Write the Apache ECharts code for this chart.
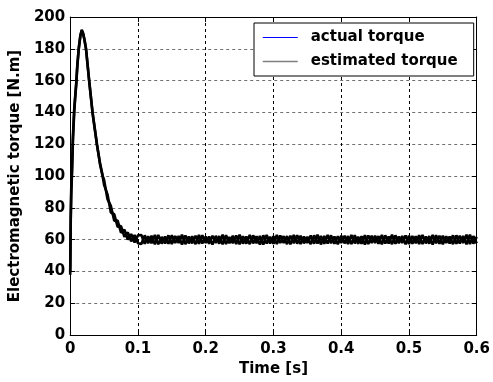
<!DOCTYPE html>
<html>
<head>
<meta charset="utf-8">
<script src="https://cdn.jsdelivr.net/npm/echarts@6/dist/echarts.min.js"></script>
<style>html,body{margin:0;padding:0;background:#fff;}#c{width:493px;height:382px;}</style>
</head>
<body>
<div id="c"></div>
<script>
// Transient part (irregular sampling)
var tTrans = [0, 0.0008, 0.0015, 0.0025, 0.004, 0.0059, 0.0075, 0.0088, 0.0105, 0.0127, 0.015, 0.017, 0.019, 0.021, 0.0234, 0.028, 0.033, 0.0395, 0.044, 0.048];
var actualTrans = [38, 72, 88, 100, 122, 140, 150, 157, 169, 180, 188, 192, 190, 186, 180, 160, 140, 120, 108, 100];
var estimatedTrans = [40, 75, 92, 103, 125, 142, 151, 158, 170, 181, 188.5, 191.5, 189.5, 185.5, 179.5, 159.5, 139.5, 119.5, 107.5, 99.5];

// Regular sampling from 0.05 s to 0.6 s every 0.005 s
var steadyStart = 0.05;
var steadyStep = 0.005;
var actualSteady = [97.5, 85.5, 81.2, 72.0, 72.0, 64.4, 66.3, 60.0, 63.5, 58.2, 62.7,
62.9, 57.4, 62.1, 57.8, 63.0, 57.1, 61.7, 57.6, 62.7, 57.3,
62.3, 57.9, 63.1, 57.2, 61.9, 57.7, 62.5, 57.4, 62.8, 58.0,
62.0, 57.0, 62.4, 57.5, 63.1, 57.3, 61.6, 57.8, 62.6, 57.1,
62.2, 57.5, 62.9, 57.7, 62.1, 57.0, 62.7, 57.6, 61.8, 57.4,
63.0, 57.9, 62.2, 57.2, 62.5, 57.7, 62.8, 57.3, 62.0, 57.9,
62.6, 57.5, 63.1, 57.0, 62.3, 57.6, 62.7, 57.4, 62.1, 58.0,
62.4, 57.2, 62.9, 57.7, 61.8, 57.5, 62.8, 57.3, 62.5, 57.9,
62.2, 57.1, 62.7, 57.6, 63.1, 57.4, 62.0, 58.0, 62.6, 57.2,
62.3, 57.7, 62.8, 57.3, 61.9, 57.5, 63.0, 57.8, 62.5, 57.1,
62.1, 57.6, 62.7, 57.4, 62.4, 57.9, 63.1, 57.3, 62.2, 57.7];
var estimatedSteady = [94.5, 88.5, 77.0, 76.0, 68.1, 68.5, 61.8, 64.6, 59.0, 62.9, 57.8,
57.3, 62.7, 57.8, 62.4, 57.1, 62.9, 57.5, 62.0, 57.4, 62.8,
57.9, 62.3, 57.0, 62.6, 57.7, 62.1, 57.2, 63.0, 57.6, 61.9,
57.4, 62.5, 58.0, 62.2, 57.1, 62.8, 57.7, 62.4, 57.3, 63.1,
57.5, 62.0, 57.2, 62.7, 57.8, 62.3, 57.0, 62.9, 57.6, 62.1,
57.3, 62.6, 57.9, 62.2, 57.1, 63.0, 57.5, 62.4, 57.7, 61.8,
57.2, 62.7, 57.6, 62.3, 57.4, 62.9, 57.8, 62.0, 57.1, 62.5,
57.7, 62.2, 57.3, 62.8, 57.5, 62.1, 57.0, 62.6, 57.9, 62.4,
57.4, 63.0, 57.6, 61.9, 57.2, 62.7, 57.8, 62.3, 57.1, 62.5,
57.5, 62.1, 57.3, 62.9, 57.7, 62.2, 57.0, 62.8, 57.4, 62.4,
57.9, 62.0, 57.2, 62.7, 57.6, 62.3, 57.1, 63.1, 57.5, 61.8];

var seriesNames = ['actual torque', 'estimated torque'];
var xTitle = 'Time [s]';
var yTitle = 'Electromagnetic torque [N.m]';

function build(trans, steady) {
  var d = tTrans.map(function (t, i) { return [t, trans[i]]; });
  steady.forEach(function (v, i) {
    d.push([Math.round((steadyStart + i * steadyStep) * 10000) / 10000, v]);
  });
  return d;
}

var font = 'DejaVu Sans';
var lbl = { fontFamily: font, fontWeight: 'bold', fontSize: 15, color: '#000' };
var chart = echarts.init(document.getElementById('c'), null, { renderer: 'canvas' });
function axisCommon() {
  return {
    axisLine: { show: true, onZero: false, lineStyle: { color: '#000', width: 1 } },
    axisTick: { show: true, inside: true, length: 5, lineStyle: { color: '#000' } }
  };
}
chart.setOption({
  animation: false,
  backgroundColor: '#fff',
  grid: { left: 70, right: 13, top: 17, bottom: 42, containLabel: false },
  legend: {
    show: true,
    orient: 'vertical',
    left: 254, top: 23,
    padding: [7, 16, 7, 8],
    itemWidth: 35, itemHeight: 14, itemGap: 9,
    backgroundColor: '#fff',
    borderColor: '#000', borderWidth: 1, borderRadius: 0,
    textStyle: { fontFamily: font, fontWeight: 'bold', fontSize: 15, color: '#000', padding: [0, 0, 0, 8] },
    data: [
      { name: seriesNames[0], itemStyle: { color: '#0000ff', opacity: 0 }, lineStyle: { color: '#0000ff', width: 1 } },
      { name: seriesNames[1], itemStyle: { color: '#808080', opacity: 0 }, lineStyle: { color: '#808080', width: 1.5 } }
    ]
  },
  xAxis: [
    Object.assign({
      type: 'value', min: 0, max: 0.6, interval: 0.1, position: 'bottom',
      name: xTitle, nameLocation: 'middle', nameGap: 26,
      nameTextStyle: lbl,
      axisLabel: Object.assign({ margin: 7, formatter: function (v) { return v === 0 ? '0' : v.toFixed(1); } }, lbl),
      splitLine: { show: true, lineStyle: { color: '#000', type: [3, 3], width: 1 } }
    }, axisCommon()),
    Object.assign({
      type: 'value', min: 0, max: 0.6, interval: 0.1, position: 'top',
      axisLabel: { show: false }, splitLine: { show: false }
    }, axisCommon())
  ],
  yAxis: [
    Object.assign({
      type: 'value', min: 0, max: 200, interval: 20, position: 'left',
      name: yTitle, nameLocation: 'middle', nameGap: 46,
      nameTextStyle: lbl,
      axisLabel: Object.assign({ margin: 5 }, lbl),
      splitLine: { show: true, lineStyle: { color: '#707070', type: [3, 3], width: 1 } }
    }, axisCommon()),
    Object.assign({
      type: 'value', min: 0, max: 200, interval: 20, position: 'right',
      axisLabel: { show: false }, splitLine: { show: false }
    }, axisCommon())
  ],
  series: [
    {
      name: seriesNames[0], type: 'line', xAxisIndex: 0, yAxisIndex: 0,
      data: build(actualTrans, actualSteady),
      symbol: 'none', showSymbol: false,
      itemStyle: { color: '#0000ff' },
      lineStyle: { color: '#000', width: 2.6 }, z: 3
    },
    {
      name: seriesNames[1], type: 'line', xAxisIndex: 0, yAxisIndex: 0,
      data: build(estimatedTrans, estimatedSteady),
      symbol: 'none', showSymbol: false,
      itemStyle: { color: '#808080' },
      lineStyle: { color: '#000', width: 2.6 }, z: 2
    }
  ]
});
</script>
</body>
</html>
